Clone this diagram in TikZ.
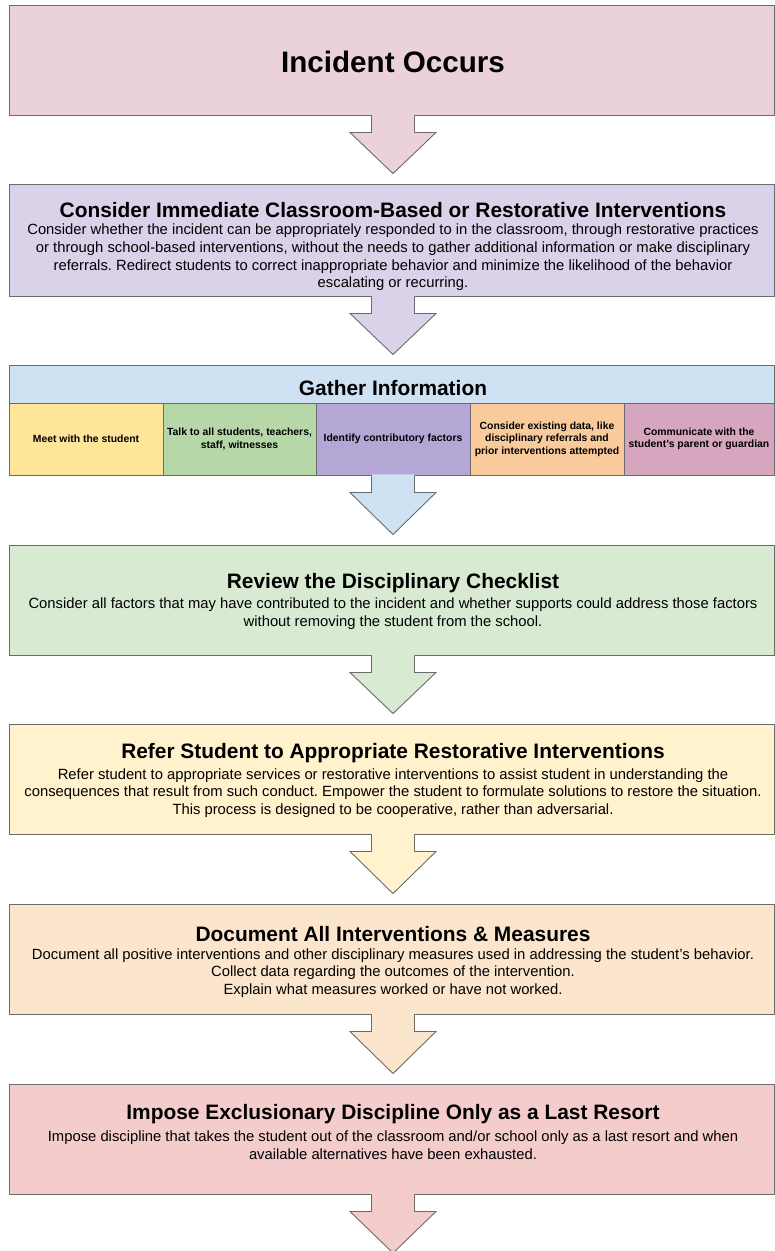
\documentclass[tikz,border=0pt]{standalone}
\usepackage{fontspec}
\setmainfont{Liberation Sans}
\usetikzlibrary{calc}
\frenchspacing

\definecolor{incident}{HTML}{EAD1DC}
\definecolor{classroom}{HTML}{D9D2E9}
\definecolor{gather}{HTML}{CFE2F3}
\definecolor{cellA}{HTML}{FFE599}
\definecolor{cellB}{HTML}{B6D7A8}
\definecolor{cellC}{HTML}{B4A7D6}
\definecolor{cellD}{HTML}{F9CB9C}
\definecolor{cellE}{HTML}{D5A6BD}
\definecolor{review}{HTML}{D9EAD3}
\definecolor{refer}{HTML}{FFF2CC}
\definecolor{document}{HTML}{FCE5CD}
\definecolor{impose}{HTML}{F4CCCC}
\definecolor{edge}{HTML}{6B6B6B}

\tikzset{
  stagebox/.style={draw=edge, line width=0.9pt, rectangle, inner sep=0pt,
    minimum width=765pt},
  cellbox/.style={draw=edge, line width=0.9pt, rectangle, inner sep=0pt,
    minimum height=72pt, align=center,
    font=\fontsize{10.4}{12.4}\selectfont\bfseries},
  bigtitle/.style={font=\fontsize{29.6}{34}\selectfont\bfseries, inner sep=0pt},
  steptitle/.style={font=\fontsize{20.9}{24}\selectfont\bfseries, inner sep=0pt},
  steptext/.style={font=\fontsize{14.8}{17.7}\selectfont, align=center, inner sep=0pt},
  arrowline/.style={draw=edge, line width=0.9pt, line join=miter},
}

% Block arrow hanging from the bottom of one node and pointing at the next one
\newcommand{\flowarrow}[3]{%
  \path ($(#1.south -| axis)$) coordinate (shafttop)
        ($(#2 -| axis)+(0,-10)$) coordinate (tip);
  \fill[#3] ($(shafttop)+(-21.5,-1)$) -- ($(shafttop)+(-21.5,17)$)
     -- ($(shafttop)+(-43,17)$) -- (tip) -- ($(shafttop)+(43,17)$)
     -- ($(shafttop)+(21.5,17)$) -- ($(shafttop)+(21.5,-1)$) -- cycle;
  \draw[arrowline] ($(shafttop)+(-21.5,0)$) -- ($(shafttop)+(-21.5,17)$)
     -- ($(shafttop)+(-43,17)$) -- (tip) -- ($(shafttop)+(43,17)$)
     -- ($(shafttop)+(21.5,17)$) -- ($(shafttop)+(21.5,0)$);
}

\begin{document}
\begin{tikzpicture}[x=1pt,y=-1pt]
  \clip (0,0) rectangle (775,1251);
  \fill[white] (0,0) rectangle (775,1251);
  \coordinate (axis) at (393,0);

  % Stage 1
  \node[stagebox, fill=incident, minimum height=110pt] (b1) at (391.5,60) {};
  \node[bigtitle] (t1) at (393,62) {Incident Occurs};

  % Stage 2
  \node[stagebox, fill=classroom, minimum height=112pt] (b2) at (391.5,240) {};
  \node[steptitle] (t2) at (393,210) {Consider Immediate Classroom-Based or Restorative Interventions};
  \node[steptext] (d2) at (393,257.5) {Consider whether the incident can be appropriately responded to in the classroom, through restorative practices\\
    or through school-based interventions, without the needs to gather additional information or make disciplinary\\
    referrals. Redirect students to correct inappropriate behavior and minimize the likelihood of the behavior\\
    escalating or recurring.};

  % Stage 3: gathering information
  \node[stagebox, fill=gather, minimum height=38pt] (b3) at (391.5,384) {};
  \node[steptitle] (t3) at (393,388) {Gather Information};
  \node[cellbox, fill=cellA, minimum width=154pt] (c1) at (86,439) {Meet with the student};
  \node[cellbox, fill=cellB, minimum width=153pt] (c2) at (239.5,439) {Talk to all students, teachers,\\ staff, witnesses};
  \node[cellbox, fill=cellC, minimum width=154pt] (c3) at (393,439) {Identify contributory factors};
  \node[cellbox, fill=cellD, minimum width=154pt] (c4) at (547,439) {Consider existing data, like\\ disciplinary referrals and\\ prior interventions attempted};
  \node[cellbox, fill=cellE, minimum width=150pt] (c5) at (699,439) {Communicate with the\\ student's parent or guardian};

  % Stage 4
  \node[stagebox, fill=review, minimum height=110pt] (b4) at (391.5,600) {};
  \node[steptitle] (t4) at (393,583) {Review the Disciplinary Checklist};
  \node[steptext] (d4) at (393,613.5) {Consider all factors that may have contributed to the incident and whether supports could address those factors\\
    without removing the student from the school.};

  % Stage 5
  \node[stagebox, fill=refer, minimum height=110pt] (b5) at (391.5,779) {};
  \node[steptitle] (t5) at (393,753) {Refer Student to Appropriate Restorative Interventions};
  \node[steptext] (d5) at (393,793) {Refer student to appropriate services or restorative interventions to assist student in understanding the\\
    consequences that result from such conduct. Empower the student to formulate solutions to restore the situation.\\
    This process is designed to be cooperative, rather than adversarial.};

  % Stage 6
  \node[stagebox, fill=document, minimum height=110pt] (b6) at (391.5,959) {};
  \node[steptitle] (t6) at (393,934) {Document All Interventions \& Measures};
  \node[steptext] (d6) at (393,973) {Document all positive interventions and other disciplinary measures used in addressing the student's behavior.\\
    Collect data regarding the outcomes of the intervention.\\
    Explain what measures worked or have not worked.};

  % Stage 7
  \node[stagebox, fill=impose, minimum height=110pt] (b7) at (391.5,1139) {};
  \node[steptitle] (t7) at (393,1114) {Impose Exclusionary Discipline Only as a Last Resort};
  \node[steptext] (d7) at (393,1145) {Impose discipline that takes the student out of the classroom and/or school only as a last resort and when\\
    available alternatives have been exhausted.};
  \coordinate (next) at (393,1263);

  % Arrows between the stages
  \flowarrow{b1}{b2.north}{incident}
  \flowarrow{b2}{b3.north}{classroom}
  \flowarrow{c3}{b4.north}{gather}
  \flowarrow{b4}{b5.north}{review}
  \flowarrow{b5}{b6.north}{refer}
  \flowarrow{b6}{b7.north}{document}
  \flowarrow{b7}{next}{impose}
\end{tikzpicture}
\end{document}
